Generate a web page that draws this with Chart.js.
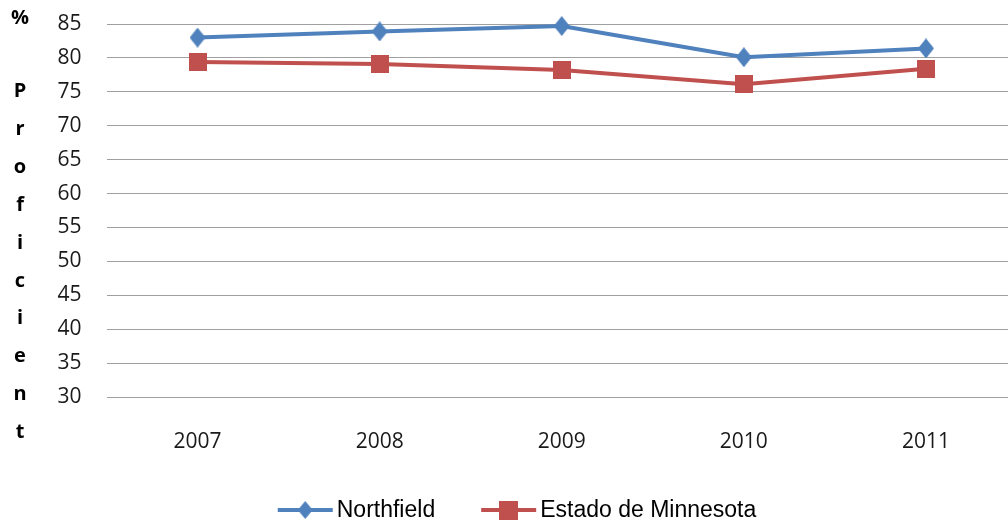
<!DOCTYPE html>
<html>
<head>
<meta charset="utf-8">
<script src="https://cdn.jsdelivr.net/npm/chart.js@4.4.1/dist/chart.umd.min.js"></script>
<style>
  html, body { margin: 0; padding: 0; background: #fff; overflow: hidden; }
  #wrap { width: 1030px; height: 523px; }
</style>
</head>
<body>
<div id="wrap"><canvas id="chart" width="1030" height="523"></canvas></div>
<script>
const years = ["2007", "2008", "2009", "2010", "2011"];
const northfield = [83.0, 83.9, 84.7, 80.1, 81.4];
const minnesota = [79.4, 79.1, 78.2, 76.1, 78.4];
const seriesNames = ["Northfield", "Estado de Minnesota"];
const yMin = 30, yMax = 85, yStep = 5;
const yTitle = "% Proficient";

const BLUE = "#4f81bd";
const RED = "#c0504d";

const makeMarker = (kind, color, w, h) => {
  const c = document.createElement("canvas");
  c.width = w;
  c.height = h;
  const g = c.getContext("2d");
  g.fillStyle = color;
  if (kind === "diamond") {
    g.beginPath();
    g.moveTo(w / 2, 0);
    g.lineTo(w, h / 2);
    g.lineTo(w / 2, h);
    g.lineTo(0, h / 2);
    g.closePath();
    g.fill();
  } else {
    g.fillRect(0, 0, w, h);
  }
  return c;
};

const diamond = makeMarker("diamond", BLUE, 16, 20);
const square = makeMarker("square", RED, 18, 18);

// y title drawn letter by letter, legend drawn below the axis
const extras = {
  id: "extras",
  afterDraw(chart) {
    const ctx = chart.ctx;
    ctx.save();
    ctx.fillStyle = "#000";
    ctx.textAlign = "center";
    ctx.textBaseline = "alphabetic";
    ctx.font = "bold 20px 'Open Sans'";
    const letters = yTitle.split(" ");
    ctx.fillText(letters[0], 20, 24);
    letters[1].split("").forEach((ch, i) => {
      ctx.fillText(ch, 20, 97 + i * 37.9);
    });

    ctx.font = "23px 'Liberation Sans'";
    ctx.textBaseline = "middle";
    ctx.textAlign = "left";
    const lineLen = 55, gapText = 4, gapItem = 46, ly = 510;
    const w1 = ctx.measureText(seriesNames[0]).width;
    const w2 = ctx.measureText(seriesNames[1]).width;
    const total = lineLen + gapText + w1 + gapItem + lineLen + gapText + w2;
    let x = 517 - total / 2;
    const items = [
      [seriesNames[0], BLUE, makeMarker("diamond", BLUE, 15, 18), w1],
      [seriesNames[1], RED, makeMarker("square", RED, 19, 19), w2],
    ];
    items.forEach(([label, color, img, w]) => {
      ctx.strokeStyle = color;
      ctx.lineWidth = 4;
      ctx.beginPath();
      ctx.moveTo(x, ly);
      ctx.lineTo(x + lineLen, ly);
      ctx.stroke();
      ctx.drawImage(img, x + lineLen / 2 - img.width / 2, ly - img.height / 2);
      ctx.fillStyle = "#000";
      ctx.fillText(label, x + lineLen + gapText, ly + 1);
      x += lineLen + gapText + w + gapItem;
    });
    ctx.restore();
  },
};

new Chart(document.getElementById("chart"), {
  type: "line",
  data: {
    labels: years,
    datasets: [
      {
        label: seriesNames[0],
        data: northfield,
        borderColor: BLUE,
        backgroundColor: BLUE,
        borderWidth: 4,
        pointStyle: diamond,
        pointRadius: 9,
        tension: 0,
        clip: false,
      },
      {
        label: seriesNames[1],
        data: minnesota,
        borderColor: RED,
        backgroundColor: RED,
        borderWidth: 4,
        pointStyle: square,
        pointRadius: 9,
        tension: 0,
        clip: false,
      },
    ],
  },
  options: {
    responsive: false,
    animation: false,
    layout: { padding: { top: 24, right: 10, bottom: 66, left: 0 } },
    plugins: {
      legend: { display: false },
      tooltip: { enabled: false },
    },
    scales: {
      x: {
        offset: true,
        grid: { display: false },
        border: { display: false },
        ticks: {
          color: "#1a1a1a",
          padding: 24,
          font: { family: "'Open Sans'", size: 21 },
          maxRotation: 0,
        },
        afterFit: (s) => { s.height = 60; },
      },
      y: {
        min: yMin,
        max: yMax,
        grid: { color: "#a0a0a0", lineWidth: 1, drawTicks: false },
        border: { display: false },
        ticks: {
          stepSize: yStep,
          color: "#1a1a1a",
          padding: 25,
          font: { family: "'Open Sans'", size: 21 },
        },
        afterFit: (s) => {
          s.width = 106.5;
          s.paddingTop = 0;
          s.paddingBottom = 0;
        },
      },
    },
  },
  plugins: [extras],
});
</script>
</body>
</html>
